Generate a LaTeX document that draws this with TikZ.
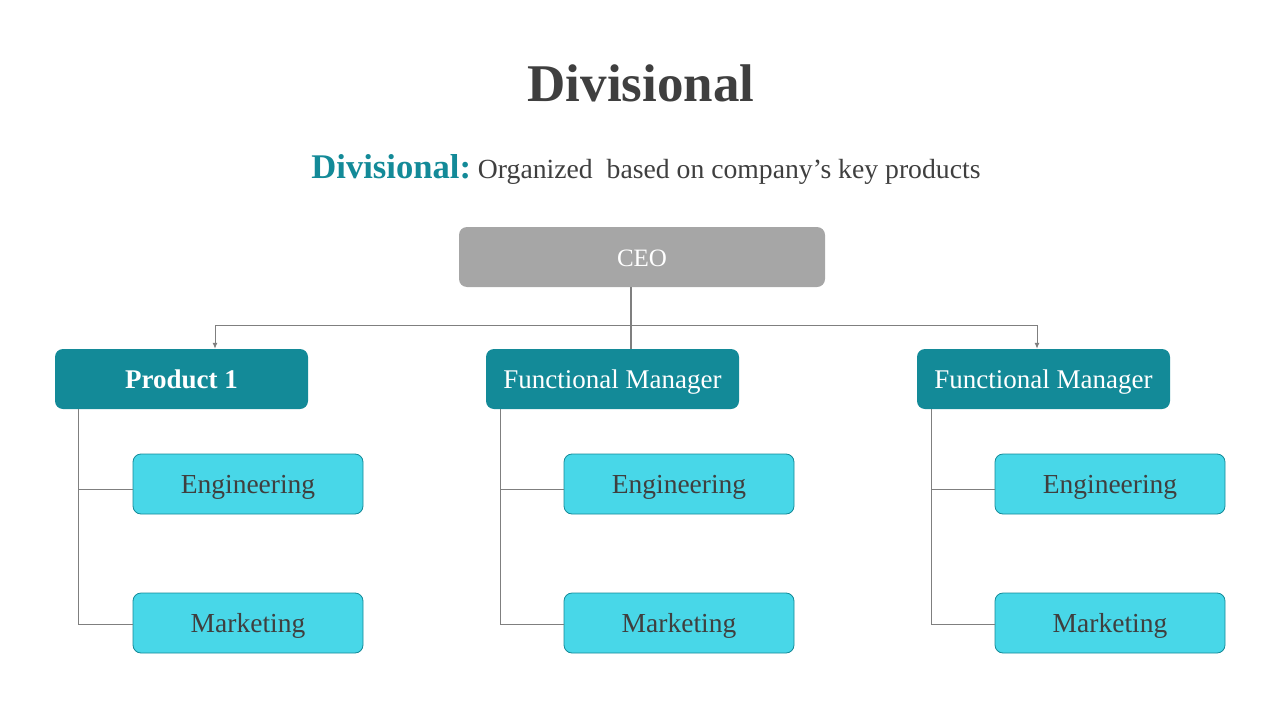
\documentclass[tikz,border=0pt]{standalone}
\usepackage{fontspec}
\setmainfont{Liberation Serif}
\usetikzlibrary{arrows.meta}
\definecolor{tealdark}{HTML}{138A98}
\definecolor{cyanlight}{HTML}{48D7E8}
\definecolor{ink}{HTML}{3F3F3F}
\definecolor{ceogray}{HTML}{A6A6A6}
\definecolor{wiregray}{HTML}{7F7F7F}
\begin{document}
\begin{tikzpicture}[
        x=1pt, y=-1pt,
        boss/.style={fill=ceogray, rounded corners=8pt, minimum width=366pt, minimum height=60pt, text height=20pt, text depth=2pt, text=white, font=\fontsize{25}{28}\selectfont},
        head/.style={fill=tealdark, rounded corners=8pt, minimum width=253pt, minimum height=60pt, text height=20pt, text depth=2pt, text=white, font=\fontsize{27}{30}\selectfont},
        unit/.style={fill=cyanlight, draw=tealdark, line width=0.8pt, rounded corners=8pt, minimum width=230pt, minimum height=60pt, text height=20pt, text depth=2pt, text=ink, font=\fontsize{27.5}{30}\selectfont},
        wire/.style={draw=wiregray, line width=1pt},
        feed/.style={wire, -{Latex[length=6pt,width=5pt]}},
    ]
    \useasboundingbox (0,0) rectangle (1280,720);

    \node[text=ink, font=\bfseries\fontsize{53}{56}\selectfont] (title) at (641,83) {Divisional};
    \node[anchor=base, text=ink, font=\fontsize{27.7}{30}\selectfont] (sub) at (646,178)
        {\textcolor{tealdark}{\bfseries\fontsize{34.6}{38}\selectfont Divisional:}\ Organized\ \ based on company’s key products};

    \node[boss] (ceo) at (642,257) {CEO};

    \foreach \n/\cx/\bx/\lab in {a/181.5/78/{\textbf{Product 1}}, b/612.5/500/{Functional Manager}, c/1043.5/931/{Functional Manager}}{
        \node[head] (head-\n) at (\cx,379) {\lab};
        \node[unit] (eng-\n) at (\cx+66.5,484) {Engineering};
        \node[unit] (mkt-\n) at (\cx+66.5,623) {Marketing};
        \coordinate (top-\n) at (\bx,409);
        \draw[wire] (top-\n) |- ([yshift=-1]mkt-\n.west);
        \draw[wire] ([yshift=-5]eng-\n.west) -- ([yshift=-5]eng-\n.west -| top-\n);
    }

    \coordinate (hub) at (631,325);
    \draw[wire, line width=1.5pt] ([xshift=-11]ceo.south) -- ([xshift=18.5]head-b.north);
    \draw[feed] (hub) -| ([xshift=33.5]head-a.north);
    \draw[feed] (hub) -| ([xshift=-6.5]head-c.north);

\end{tikzpicture}
\end{document}
